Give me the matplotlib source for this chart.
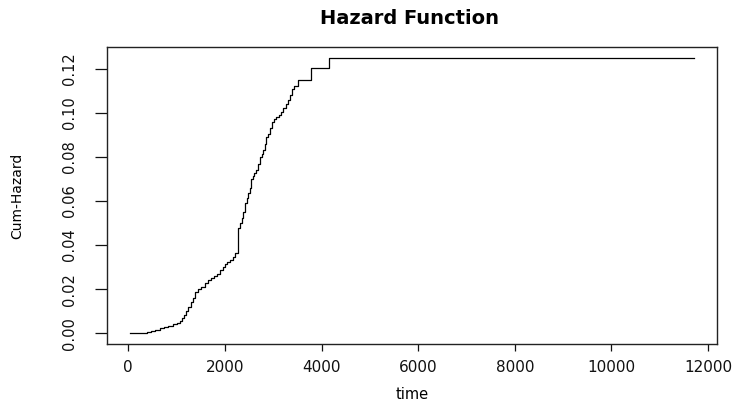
import matplotlib
matplotlib.use("Agg")
import matplotlib.pyplot as plt
import numpy as np

# event times (days) and the cumulative hazard right after each event,
# read off the step curve
times = [28, 383, 470, 560, 650, 740, 830, 920, 1000, 1080,
         1120, 1160, 1200, 1240, 1290, 1330, 1380,
         1440, 1510, 1580, 1650, 1720, 1780, 1830,
         1900, 1960, 2000, 2040, 2100, 2160, 2210,
         2275, 2310, 2345, 2380, 2417, 2450, 2480, 2510, 2545, 2575,
         2610, 2650, 2680, 2720, 2760, 2790, 2820, 2850, 2890, 2930,
         2970, 3010, 3050, 3110, 3160, 3210, 3260, 3300, 3350, 3390,
         3420, 3520, 3782, 4161, 11710]
cumhaz = [0.0, 0.0006, 0.0011, 0.0016, 0.0022, 0.0028, 0.0034, 0.0041, 0.0048, 0.0056,
          0.0068, 0.0085, 0.0102, 0.0120, 0.0140, 0.0160, 0.0187,
          0.0199, 0.0212, 0.0226, 0.0240, 0.0252, 0.0262, 0.0271,
          0.0285, 0.0300, 0.0312, 0.0323, 0.0334, 0.0348, 0.0362,
          0.0476, 0.0500, 0.0525, 0.0550, 0.0591, 0.0612, 0.0635, 0.0660, 0.0700, 0.0712,
          0.0725, 0.0742, 0.0770, 0.0800, 0.0815, 0.0830, 0.0860, 0.0890, 0.0905, 0.0930,
          0.0960, 0.0972, 0.0980, 0.0992, 0.1005, 0.1020, 0.1040, 0.1060, 0.1080, 0.1110,
          0.1120, 0.1150, 0.1205, 0.1250, 0.1250]

xticks = [0, 2000, 4000, 6000, 8000, 10000, 12000]
yticks = [0.00, 0.02, 0.04, 0.06, 0.08, 0.10, 0.12]

plt.rcParams['font.family'] = ['DejaVu Sans']
narrow = ['Liberation Sans Narrow', 'DejaVu Sans']

fig = plt.figure(figsize=(7.4, 4.03), dpi=100)
ax = fig.add_axes([0.1446, 0.1457, 0.8239, 0.7384])

ax.step(times, cumhaz, where='post', color='black', linewidth=0.9)

# R style 4% padding around the data range
xr = max(times) - min(times)
yr = max(cumhaz) - min(cumhaz)
ax.set_xlim(min(times) - 0.04 * xr, max(times) + 0.04 * xr)
ax.set_ylim(min(cumhaz) - 0.04 * yr, max(cumhaz) + 0.04 * yr)

ax.set_xticks(xticks)
ax.set_xticklabels([str(t) for t in xticks])
ax.set_yticks(yticks)
ax.set_yticklabels(["%.2f" % v for v in yticks])

ax.tick_params(axis='x', length=5, width=0.9, pad=6, labelsize=11, colors='#111111')
ax.tick_params(axis='y', length=8.6, width=0.9, pad=13, labelsize=10.5,
               labelrotation=90, colors='#111111')
for lab in ax.get_yticklabels():
    lab.set_va('center')
    lab.set_family(narrow)

for sp in ax.spines.values():
    sp.set_linewidth(1.0)
    sp.set_color('#222222')

# x label sits on its baseline so it stays inside the bottom edge
ax.set_xlabel("time", fontsize=10.5)
ax.xaxis.set_label_coords(0.5, (344.3 - 399.5) / 297.6)
ax.xaxis.label.set_va('baseline')
ax.set_ylabel("Cum-Hazard", fontsize=10, family=narrow)
ax.yaxis.set_label_coords(-0.148, 0.5)
ax.yaxis.label.set_va('center')

fig.text(409.7 / 740, 1 - 18 / 403, "Hazard Function",
         ha='center', va='center', fontsize=14, fontweight='bold')

fig.savefig("out.png", dpi=100)
